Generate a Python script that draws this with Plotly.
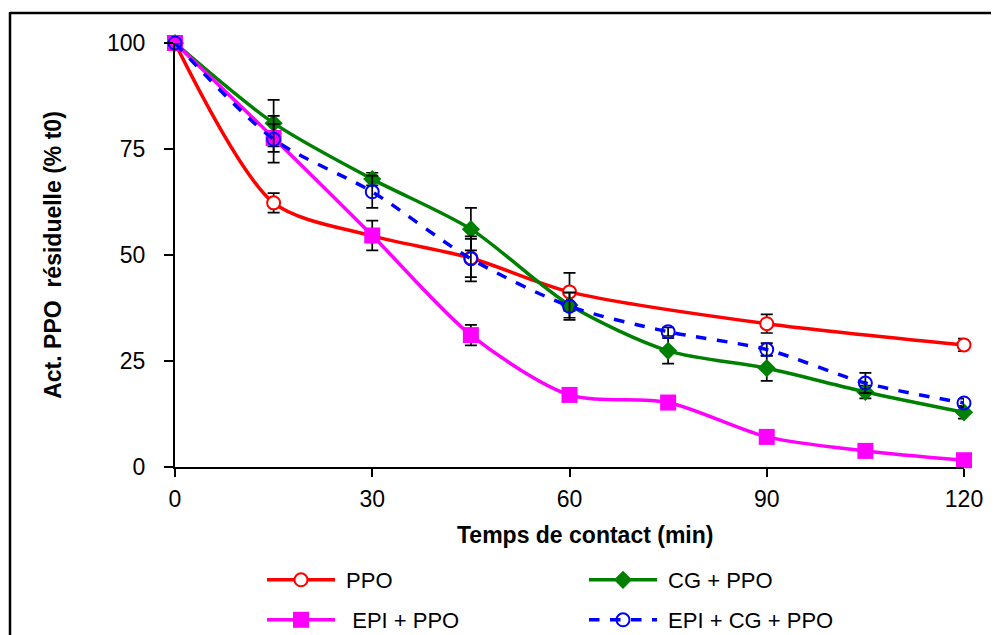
import plotly.graph_objects as go

# Data
t_ppo = [0, 15, 30, 45, 60, 90, 120]
ppo = [100, 62.3, 54.5, 49.3, 41.3, 33.8, 28.8]
ppo_err = [0, 2.3, 0, 4.5, 4.5, 2.2, 1.5]

t_all = [0, 15, 30, 45, 60, 75, 90, 105, 120]
cg_ppo = [100, 81.1, 67.9, 56.1, 38.2, 27.4, 23.3, 17.7, 12.9]
cg_ppo_err = [0, 5.5, 1.5, 5.0, 3.0, 3.0, 3.0, 1.5, 1.5]

epi_ppo = [100, 77.6, 54.6, 31.1, 17.0, 15.2, 7.1, 3.8, 1.6]
epi_ppo_err = [0, 3.3, 3.5, 2.4, 0, 0, 0, 0, 0]

epi_cg_ppo = [100, 77.3, 64.9, 49.1, 37.9, 31.9, 27.7, 19.8, 15.1]
epi_cg_ppo_err = [0, 5.5, 3.8, 5.3, 3.2, 1.0, 1.5, 2.4, 1.0]

series_names = ["PPO", "CG + PPO", "EPI + PPO", "EPI + CG + PPO"]
x_ticks = [0, 30, 60, 90, 120]
y_ticks = [0, 25, 50, 75, 100]
x_title = "Temps de contact (min)"
y_title = "Act. PPO  résiduelle (% t0)"

FONT = "Liberation Sans, Arial, sans-serif"

def eb(vals):
    return dict(type="data", array=vals, visible=True, color="black",
                thickness=1.7, width=6)

fig = go.Figure()
fig.add_trace(go.Scatter(
    x=t_ppo, y=ppo, name=" " + series_names[0], mode="lines+markers", legend="legend",
    line=dict(color="#ff0000", width=3.5, shape="spline", smoothing=0.8),
    marker=dict(symbol="circle", size=13, color="white",
                line=dict(color="#ff0000", width=2)),
    error_y=eb(ppo_err), cliponaxis=False))
fig.add_trace(go.Scatter(
    x=t_all, y=cg_ppo, name=" " + series_names[1], mode="lines+markers", legend="legend",
    line=dict(color="#008000", width=3.5, shape="spline", smoothing=0.8),
    marker=dict(symbol="diamond", size=14, color="#008000"),
    error_y=eb(cg_ppo_err), cliponaxis=False))
fig.add_trace(go.Scatter(
    x=t_all, y=epi_ppo, name="  " + series_names[2], mode="lines+markers", legend="legend2",
    line=dict(color="#ff00ff", width=3.5, shape="spline", smoothing=0.8),
    marker=dict(symbol="square", size=16, color="#ff00ff"),
    error_y=eb(epi_ppo_err), cliponaxis=False))
fig.add_trace(go.Scatter(
    x=t_all, y=epi_cg_ppo, name=" " + series_names[3], mode="lines+markers", legend="legend2",
    line=dict(color="#0000ff", width=3.5, dash="dash", shape="spline", smoothing=0.8),
    marker=dict(symbol="circle-open", size=13, color="#0000ff",
                line=dict(color="#0000ff", width=2)),
    error_y=eb(epi_cg_ppo_err), cliponaxis=False))

# page has an 8px body margin; positions below are reference pixels
OFF = 8
W, H = 999 - OFF, 635 - OFF
PX0, PX1, PY0, PY1 = 175 - OFF, 964 - OFF, 43 - OFF, 467 - OFF
L, R, T, B = PX0, W - PX1, PY0, H - PY1
pw, ph = PX1 - PX0, PY1 - PY0

def px2paper_x(p):
    return (p - OFF - PX0) / pw

def px2paper_y(p):
    return (PY1 - (p - OFF)) / ph

leg_common = dict(orientation="h", xanchor="left", yanchor="middle",
                  entrywidth=239, entrywidthmode="pixels",
                  font=dict(size=22, family=FONT), bgcolor="rgba(0,0,0,0)",
                  itemwidth=68)

frame = dict(type="line", xref="paper", yref="paper",
             line=dict(color="black", width=2.5), layer="below")

fig.update_layout(
    width=W, height=H,
    margin=dict(l=L, r=R, t=T, b=B, autoexpand=False),
    paper_bgcolor="white", plot_bgcolor="white",
    font=dict(family=FONT, color="black"),
    xaxis=dict(range=[0, 120], tickvals=x_ticks, ticktext=[str(v) for v in x_ticks],
               showgrid=False, zeroline=False, showline=True, linecolor="black",
               linewidth=2, ticks="outside", ticklen=8, tickwidth=2, tickcolor="black",
               tickfont=dict(size=23, family=FONT), ticklabelstandoff=2),
    yaxis=dict(range=[0, 100], tickvals=y_ticks, ticktext=[str(v) for v in y_ticks],
               showgrid=False, zeroline=False, showline=True, linecolor="black",
               linewidth=2, ticks="outside", ticklen=9, tickwidth=2, tickcolor="black",
               tickfont=dict(size=23, family=FONT), ticklabelstandoff=14,
               title=dict(text="<b>" + y_title + "</b>", font=dict(size=23, family=FONT),
                          standoff=39)),
    legend=dict(x=px2paper_x(262), y=px2paper_y(580), **leg_common),
    legend2=dict(x=px2paper_x(262), y=px2paper_y(620), **leg_common),
    annotations=[dict(text="<b>" + x_title + "</b>", xref="paper", yref="paper",
                      x=px2paper_x(585), y=px2paper_y(535), xanchor="center", yanchor="middle",
                      showarrow=False, font=dict(size=23, family=FONT))],
    shapes=[
        dict(frame, x0=px2paper_x(10), x1=px2paper_x(1030),
             y0=px2paper_y(13), y1=px2paper_y(13)),
        dict(frame, x0=px2paper_x(10), x1=px2paper_x(10),
             y0=px2paper_y(12), y1=px2paper_y(680)),
    ],
)

fig.write_html("out.html")
